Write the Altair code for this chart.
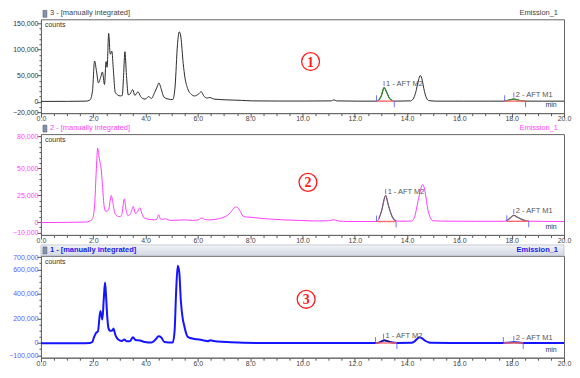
import altair as alt
import pandas as pd

# ---------------- data ----------------
# Panel 1 (trace "3")
p1_t = [0.0, 1.01, 1.72, 1.87, 1.97, 2.05, 2.12, 2.20, 2.29, 2.35, 2.43, 2.49, 2.53, 2.59, 2.65, 2.71,
        2.77, 2.84, 2.93, 3.03, 3.11, 3.16, 3.21, 3.27, 3.34, 3.41, 3.51, 3.59, 3.71, 3.81, 3.89, 3.99,
        4.12, 4.22, 4.35, 4.44, 4.51, 4.60, 4.70, 4.86, 5.04, 5.13, 5.22, 5.29, 5.35, 5.44, 5.51, 5.61,
        5.75, 5.87, 6.01, 6.13, 6.24, 6.36, 6.46, 6.61, 7.07, 7.37, 7.67, 8.08, 9.09, 10.1, 11.1, 11.2,
        11.3, 12.1, 12.82, 12.92, 13.02, 13.12, 13.22, 13.32, 13.43, 13.53, 14.13, 14.23, 14.33, 14.44,
        14.50, 14.56, 14.64, 14.74, 14.84, 15.14, 16.15, 17.16, 17.67, 17.77, 17.97, 18.08, 18.22, 18.37,
        18.52, 19.18, 20.0]
p1_v = [500, 600, 1000, 3000, 20000, 78000, 60000, 36000, 48000, 57000, 33000, 77000, 66000, 131000, 91000, 97000,
        60000, 18000, 13000, 11000, 12000, 50000, 96000, 50000, 13000, 15000, 23000, 12000, 19000, 10000, 6000, 5000,
        10000, 6000, 18000, 28000, 36000, 24000, 9000, 5000, 4000, 30000, 109000, 134000, 124000, 73000, 45000, 25000,
        14000, 11000, 14000, 19000, 10000, 7000, 8000, 5000, 3500, 3000, 2500, 1500, 1200, 1200, 1500, 3500,
        1500, 1000, 1000, 3000, 12000, 27000, 18000, 7000, 2000, 1000, 1500, 5000, 18000, 42000,
        50000, 45000, 25000, 7000, 2000, 1000, 1000, 1000, 1000, 1500, 4000, 5000, 3500, 1500,
        1000, 1000, 1000]

# Panel 2 (trace "2")
p2_t = [0.0, 1.01, 1.72, 1.87, 1.97, 2.05, 2.12, 2.17, 2.21, 2.24, 2.30, 2.35, 2.42, 2.48, 2.58, 2.69,
        2.75, 2.83, 2.93, 3.02, 3.09, 3.19, 3.25, 3.33, 3.43, 3.53, 3.61, 3.68, 3.78, 3.86, 3.94, 4.04,
        4.24, 4.35, 4.44, 4.50, 4.57, 4.64, 4.76, 4.95, 5.25, 5.50, 5.79, 6.01, 6.11, 6.18, 6.26, 6.41,
        6.66, 7.0, 7.17, 7.32, 7.44, 7.52, 7.62, 7.75, 8.0, 8.28, 8.63, 9.29, 9.89, 10.52, 11.0, 11.2,
        11.36, 11.78, 12.55, 12.82, 12.92, 13.02, 13.18, 13.28, 13.43, 13.58, 13.95, 14.18, 14.29, 14.44,
        14.6, 14.69, 14.79, 14.89, 14.99, 15.65, 16.66, 17.67, 17.81, 17.95, 18.08, 18.22, 18.38, 18.53,
        18.65, 19.18, 20.0]
p2_v = [-500, -300, 0, 1000, 3000, 15000, 50000, 69000, 62000, 58000, 50000, 35000, 14000, 10000, 11000, 24700,
        18000, 8000, 5500, 5000, 7000, 21600, 12000, 6000, 8000, 14500, 8000, 9000, 13300, 8000, 4000, 3000,
        2200, 2000, 3000, 6800, 3000, 2500, 3000, 1500, 1800, 2000, 1500, 2000, 3500, 3700, 2500, 2000,
        2500, 4600, 7000, 11000, 14000, 13500, 10000, 5000, 4500, 3800, 3000, 2000, 1500, 1000, 1200, 2200,
        1000, 500, 500, 500, 3000, 10000, 24700, 16000, 5000, 1000, 700, 1000, 5000, 22000,
        35000, 28000, 12000, 4000, 1200, 800, 700, 700, 1000, 4000, 6200, 4500, 2500, 1200,
        800, 600, 500]

# Panel 3 (trace "1")
p3_t = [0.0, 1.51, 1.87, 1.97, 2.02, 2.11, 2.18, 2.27, 2.32, 2.35, 2.40, 2.45, 2.49, 2.54, 2.58, 2.64,
        2.69, 2.75, 2.77, 2.81, 2.84, 2.91, 2.96, 3.09, 3.19, 3.27, 3.40, 3.52, 3.61, 3.79, 3.97, 4.22,
        4.38, 4.50, 4.60, 4.72, 5.04, 5.11, 5.17, 5.23, 5.29, 5.35, 5.42, 5.48, 5.55, 5.61, 5.87, 6.06,
        6.24, 6.37, 6.49, 6.61, 6.74, 7.25, 7.75, 8.58, 10.1, 12.62, 12.79, 12.92, 13.02, 13.12, 13.22,
        13.38, 13.53, 13.63, 14.17, 14.28, 14.39, 14.47, 14.56, 14.69, 14.84, 14.93, 15.65, 17.67, 17.87,
        18.08, 18.27, 18.43, 19.18, 20.0]
p3_v = [-3000, -2000, 0, 10000, 41000, 82000, 95000, 260000, 215000, 192000, 350000, 492000, 380000, 200000, 123000, 100000,
        100000, 105000, 118000, 95000, 69000, 40000, 28000, 16000, 28000, 15000, 15000, 47000, 25000, 20000, 8000, 3000,
        28000, 55000, 45000, 8000, 3000, 96000, 424000, 629000, 574000, 342000, 200000, 140000, 80000, 50000, 33000, 28000,
        20000, 14000, 22000, 16000, 12000, 6000, 2000, 0, 0, 0, 0, 3000, 12000, 22000, 17000,
        6000, 1000, 0, 1000, 12000, 35000, 47000, 40000, 18000, 4000, 1000, 0, 0, 2000,
        5000, 3000, 500, 0, 0]

peak_names = ["1 - AFT M2", "2 - AFT M1"]
p1_start, p1_end, p1_apex_t, p1_apex_v, p1_base = [12.83, 17.73], [13.51, 18.53], [13.12, 18.08], [27000, 5000], [1000, 1000]
p2_start, p2_end, p2_apex_t, p2_apex_v, p2_base = [12.83, 17.81], [13.58, 18.65], [13.18, 18.08], [24700, 6200], [500, 700]
p3_start, p3_end, p3_apex_t, p3_apex_v, p3_base = [12.79, 17.68], [13.61, 18.44], [13.1, 18.08], [22000, 5000], [0, 0]

p1_domain, p2_domain, p3_domain = [-22000, 158000], [-12000, 82000], [-120000, 710000]
p1_major = [-20000, 0, 50000, 100000, 150000]
p2_major = [-10000, 0, 25000, 50000, 80000]
p3_major = [-100000, 0, 200000, 400000, 600000, 700000]
p1_minor = list(range(-20000, 150001, 10000))
p2_minor = list(range(-10000, 80001, 5000))
p3_minor = list(range(-100000, 700001, 50000))
x_ticks = [i * 0.5 for i in range(41)]

headers = ["3 -  [manually integrated]", "2 -  [manually integrated]", "1 -  [manually integrated]"]
channel = "Emission_1"
num_labels = ["1", "2", "3"]
num_t = [10.31, 10.21, 10.14]
num_v = [77000, 37000, 356000]

FONT = "Liberation Sans"
W = 524


def make_panel(t, v, starts, ends, apex_t, apex_v, base, dom, major, minor, line_color, line_w,
               lab_color, peak_color, header, head_color, head_bold, num_txt, nt, nv, H, bar=False):
    xs = alt.Scale(domain=[0, 20], nice=False, zero=False)
    ys = alt.Scale(domain=dom, nice=False, zero=False)
    trace = pd.DataFrame({"t": t, "v": v})
    rows = []
    for i, (s, e) in enumerate(zip(starts, ends)):
        for tt, vv in zip(t, v):
            if s <= tt <= e:
                rows.append({"t": tt, "v": vv, "peak": i})
    pk = pd.DataFrame(rows)
    peaks = pd.DataFrame({"start": starts, "end": ends, "apex_t": apex_t, "apex_v": apex_v,
                          "base": base, "name": peak_names})

    xmaj = "abs(datum.value - 2*round(datum.value/2)) < 0.001"
    ymaj = "indexof(" + str(major) + ", datum.value) >= 0"
    x_axis = alt.Axis(values=x_ticks, title=None, grid=False, labelFlush=False, labelOverlap=False,
                      labelExpr=f"{xmaj} ? format(datum.value, '.1f') : ''",
                      tickSize={"condition": {"test": xmaj, "value": 4}, "value": 2.5},
                      labelFontSize=7, labelColor="#444", labelPadding=-2.5,
                      tickColor="#555", domainColor="#666", labelFont=FONT)
    y_axis = alt.Axis(values=minor, title=None, grid=False, labelOverlap=False,
                      labelExpr=f"{ymaj} ? format(datum.value, ',') : ''",
                      tickSize={"condition": {"test": ymaj, "value": 4}, "value": 2},
                      labelFontSize=7, labelColor=lab_color, labelPadding=-1,
                      tickColor="#555", domainColor="#666", labelFont=FONT)

    X = lambda f: alt.X(f, scale=xs, axis=x_axis)
    Y = lambda f: alt.Y(f, scale=ys, axis=y_axis)

    layers = []
    if bar:
        layers.append(alt.Chart(pd.DataFrame({"a": [0]})).mark_rect(
            fill=alt.Gradient(gradient="linear", x1=0, x2=0, y1=0, y2=1,
                              stops=[alt.GradientStop(color="#f1f3f7", offset=0),
                                     alt.GradientStop(color="#d2d7e1", offset=1)]),
            stroke="#a9b0bc", strokeWidth=0.6).encode(
            x=alt.value(0), x2=alt.value(W), y=alt.value(-11), y2=alt.value(0)))
    layers.append(alt.Chart(trace).mark_line(color=line_color, strokeWidth=line_w, interpolate="monotone").encode(
        x=X("t:Q"), y=Y("v:Q")))
    layers.append(alt.Chart(pk).mark_line(color=peak_color, strokeWidth=1.2, interpolate="monotone").encode(
        x=X("t:Q"), y=Y("v:Q"), detail="peak:N"))
    layers.append(alt.Chart(peaks).mark_rule(color="#ff6b6b", strokeWidth=1.4).encode(
        x=X("start:Q"), x2="end:Q", y=Y("base:Q")))
    layers.append(alt.Chart(peaks).mark_tick(orient="vertical", color="#3b3bff", size=6, thickness=1, yOffset=-3).encode(
        x=X("start:Q"), y=Y("base:Q")))
    layers.append(alt.Chart(peaks).mark_tick(orient="vertical", color="#3b3bff", size=6, thickness=1, yOffset=3).encode(
        x=X("end:Q"), y=Y("base:Q")))
    layers.append(alt.Chart(peaks).mark_tick(orient="vertical", color="#3b3bff", size=5, thickness=1, yOffset=-4).encode(
        x=X("apex_t:Q"), y=Y("apex_v:Q")))
    layers.append(alt.Chart(peaks).mark_text(align="left", baseline="middle", dx=2, dy=-4, fontSize=7.5,
                                             color="#555", font=FONT).encode(
        x=X("apex_t:Q"), y=Y("apex_v:Q"), text="name:N"))
    # texts in frame
    layers.append(alt.Chart(pd.DataFrame({"s": ["counts"]})).mark_text(
        align="left", baseline="middle", fontSize=7, color="#333", font=FONT).encode(
        x=alt.value(4), y=alt.value(6), text="s:N"))
    layers.append(alt.Chart(pd.DataFrame({"s": ["min"]})).mark_text(
        align="center", baseline="middle", fontSize=7, color="#333", font=FONT).encode(
        x=alt.value(W - 13), y=alt.value(H - 8), text="s:N"))
    # header
    layers.append(alt.Chart(pd.DataFrame({"a": [0]})).mark_rect(fill="#7f93ad", stroke="#556", strokeWidth=0.5).encode(
        x=alt.value(2), x2=alt.value(6), y=alt.value(-9), y2=alt.value(-2)))
    layers.append(alt.Chart(pd.DataFrame({"s": [header]})).mark_text(
        align="left", baseline="bottom", fontSize=7.5, color=head_color, font=FONT,
        fontWeight="bold" if head_bold else "normal").encode(
        x=alt.value(9), y=alt.value(-2), text="s:N"))
    layers.append(alt.Chart(pd.DataFrame({"s": [channel]})).mark_text(
        align="right", baseline="bottom", fontSize=7.5, color=head_color, font=FONT,
        fontWeight="bold" if head_bold else "normal").encode(
        x=alt.value(W - 6), y=alt.value(-2), text="s:N"))
    # circled number
    numdf = pd.DataFrame({"t": [nt], "v": [nv], "s": [num_txt]})
    layers.append(alt.Chart(numdf).mark_point(shape="circle", size=320, filled=False, color="#ff1a1a",
                                              strokeWidth=1.3, opacity=1).encode(x=X("t:Q"), y=Y("v:Q")))
    layers.append(alt.Chart(numdf).mark_text(fontSize=14, fontWeight="bold", color="#ff1a1a",
                                             font="Liberation Serif", baseline="middle", dy=1).encode(
        x=X("t:Q"), y=Y("v:Q"), text="s:N"))
    return alt.layer(*layers).properties(width=W, height=H)


c1 = make_panel(p1_t, p1_v, p1_start, p1_end, p1_apex_t, p1_apex_v, p1_base, p1_domain, p1_major, p1_minor,
                "#2b2b2b", 1.0, "#333333", "#2e8b2e", headers[0], "#444444", False,
                num_labels[0], num_t[0], num_v[0], 94)
c2 = make_panel(p2_t, p2_v, p2_start, p2_end, p2_apex_t, p2_apex_v, p2_base, p2_domain, p2_major, p2_minor,
                "#ff3cff", 1.0, "#ff44ff", "#666666", headers[1], "#ff44ff", False,
                num_labels[1], num_t[1], num_v[1], 101)
c3 = make_panel(p3_t, p3_v, p3_start, p3_end, p3_apex_t, p3_apex_v, p3_base, p3_domain, p3_major, p3_minor,
                "#1414ff", 2.0, "#5a5aff", "#1a1a70", headers[2], "#2020ee", True,
                num_labels[2], num_t[2], num_v[2], 102, bar=True)

chart = alt.vconcat(c1, c2, c3, spacing=21, bounds="flush", padding=0).configure(font=FONT).configure_view(
    stroke="#666666", strokeWidth=1)

chart.save("out.html", embed_options={"renderer": "svg", "actions": False})
